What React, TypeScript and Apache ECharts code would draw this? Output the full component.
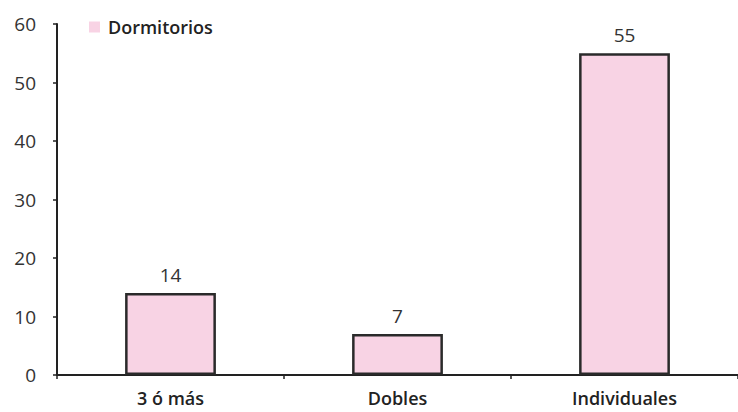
import React, { useEffect, useRef } from "react";
import * as echarts from "echarts";

const categories = ["3 ó más", "Dobles", "Individuales"];
const dormitorios = [14, 7, 55];
const seriesName = "Dormitorios";

export default function App() {
  const ref = useRef<HTMLDivElement>(null);
  useEffect(() => {
    if (!ref.current) return;
    const chart = echarts.init(ref.current, null, { renderer: "svg" });
    const font = "'Open Sans', 'Liberation Sans', sans-serif";
    chart.setOption({
      animation: false,
      backgroundColor: "#ffffff",
      textStyle: { fontFamily: font },
      legend: {
        data: [seriesName],
        left: 84,
        top: 13,
        itemWidth: 11,
        itemHeight: 11,
        itemGap: 10,
        icon: "rect",
        textStyle: { fontSize: 18, color: "#222", fontWeight: 600, fontFamily: font, padding: [0, 0, 0, 3] },
        itemStyle: { borderWidth: 0 },
      },
      grid: { left: 57, top: 24, width: 687, bottom: 37, containLabel: false },
      xAxis: {
        type: "category",
        data: categories,
        boundaryGap: true,
        axisLine: { show: true, onZero: false, lineStyle: { color: "#222", width: 2 } },
        axisTick: { show: true, length: 4, lineStyle: { color: "#222", width: 1.5 } },
        axisLabel: { fontSize: 18, color: "#222", fontWeight: 600, margin: 14, fontFamily: font },
        splitLine: { show: false },
      },
      yAxis: {
        type: "value",
        min: 0,
        max: 60,
        interval: 10,
        axisLine: { show: true, onZero: false, lineStyle: { color: "#222", width: 2 } },
        axisTick: { show: true, length: 4, lineStyle: { color: "#222", width: 1.5 } },
        axisLabel: { fontSize: 19, color: "#333", margin: 21, fontFamily: font },
        splitLine: { show: false },
      },
      series: [
        {
          name: seriesName,
          type: "bar",
          data: dormitorios,
          barWidth: "40%",
          itemStyle: { color: "#f8d3e4", borderColor: "#2a2a2a", borderWidth: 2.5 },
          label: { show: true, position: "top", distance: 9, fontSize: 19, color: "#333", fontFamily: font },
        },
      ],
    });
    return () => chart.dispose();
  }, []);
  return <div ref={ref} style={{ width: 738, height: 412, position: "absolute", left: 0, top: 0 }} />;
}
